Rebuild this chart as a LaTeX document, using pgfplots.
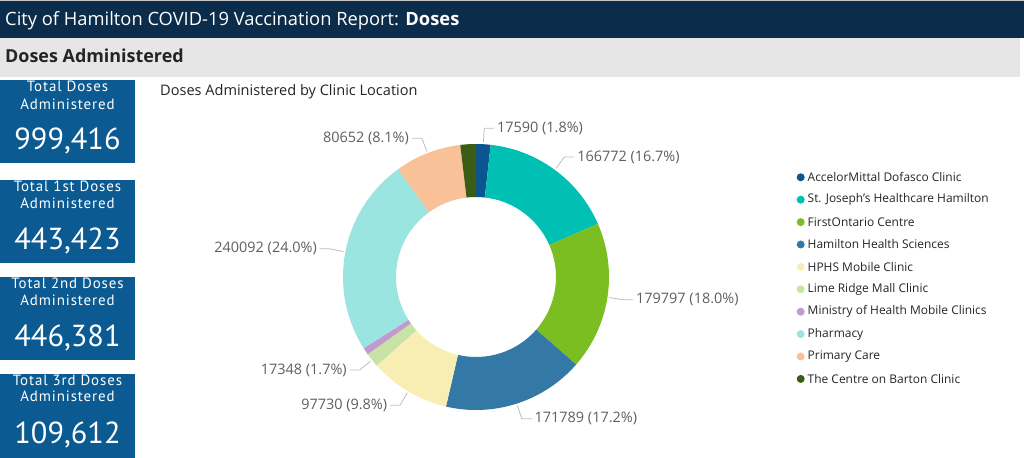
\documentclass[border=0pt]{standalone}
\usepackage{pgfplots}
\pgfplotsset{compat=1.18}
\usepackage{pgfplotstable}
\usetikzlibrary{calc}
\usepackage{fontspec}
\setmainfont{Open Sans}
\newfontfamily\kpifont{PT Sans}[LetterSpace=6]
\newfontfamily\kpinumfont{PT Sans}

\definecolor{headnavy}{HTML}{0B2C4A}
\definecolor{bandgrey}{HTML}{E6E6E6}
\definecolor{kpiblue}{HTML}{0B5A92}
\definecolor{txtdark}{HTML}{252423}
\definecolor{lblgrey}{HTML}{605E5C}
\definecolor{leader}{HTML}{BDBDBD}
% slice colours, in table order
\definecolor{slice0}{HTML}{0B5591}
\definecolor{slice1}{HTML}{00BFB3}
\definecolor{slice2}{HTML}{7BBE22}
\definecolor{slice3}{HTML}{3479A6}
\definecolor{slice4}{HTML}{F8EEB4}
\definecolor{slice5}{HTML}{C8E3A6}
\definecolor{slice6}{HTML}{C39AD0}
\definecolor{slice7}{HTML}{9BE5E0}
\definecolor{slice8}{HTML}{F9C198}
\definecolor{slice9}{HTML}{3A5C14}

% doses by clinic location (show = print a data label)
\pgfplotstableread{
val show
17590 1
166772 1
179797 1
171789 1
97730 1
17348 1
8746 0
240092 1
80652 1
18900 0
}\doses

\gdef\total{0}
\pgfplotstableforeachcolumnelement{val}\of\doses\as\v{\xdef\total{\fpeval{\total+\v}}}

\newcommand\pctfmt[1]{\pgfmathprintnumber[fixed,fixed zerofill,precision=1,assume math mode=true]{#1}}

\begin{document}
\begin{tikzpicture}[x=1bp,y=1bp]
\useasboundingbox (0,0) rectangle (1024,-458);

% report header
\fill[headnavy] (0,0) rectangle (1024,-38);
\fill[gray!45] (0,0) rectangle (1024,-1.2);
\node[anchor=base west,inner sep=0,text=white,font=\fontsize{18.4}{20}\selectfont]
  at (5,-26) {City of Hamilton COVID-19 Vaccination Report: \textbf{Doses}};
\fill[bandgrey] (0,-38) rectangle (1020,-77);
\node[anchor=base west,inner sep=0,text=txtdark,font=\fontsize{18}{20}\selectfont\bfseries]
  at (5,-63) {Doses Administered};

% KPI cards
\foreach \top/\bot/\la/\lb/\num/\ya/\yb/\yc in {
  80/163/Total Doses/Administered/{999,416}/92/110/150,
  180/263/Total 1st Doses/Administered/{443,423}/192/209/250,
  277/360/Total 2nd Doses/Administered/{446,381}/289/306/347,
  374/458/Total 3rd Doses/Administered/{109,612}/386/402/443}{
  \fill[kpiblue] (0,-\top) rectangle (135,-\bot);
  \node[anchor=base,inner sep=0,text=white,font=\kpifont\fontsize{15}{17}\selectfont] at (67.5,-\ya) {\la};
  \node[anchor=base,inner sep=0,text=white,font=\kpifont\fontsize{15}{17}\selectfont] at (67.5,-\yb) {\lb};
  \node[anchor=base,inner sep=0,text=white,font=\kpinumfont\fontsize{30.5}{32}\selectfont] at (67.5,-\yc) {\num};
}

% chart title
\node[anchor=base west,inner sep=0,text=txtdark,font=\fontsize{14.6}{16}\selectfont]
  at (160,-96) {Doses Administered by Clinic Location};

% donut chart
\begin{axis}[at={(476bp,-277bp)}, anchor=origin,
  width=266bp, height=266bp, scale only axis,
  xmin=-1, xmax=1, ymin=-1, ymax=1,
  hide axis, clip=false]
\pgfplotsextra{
  \coordinate (O) at (axis cs:0,0);
  \gdef\cum{0}
  \foreach \i in {0,...,9}{
    \pgfplotstablegetelem{\i}{val}\of\doses \let\v\pgfplotsretval
    \pgfplotstablegetelem{\i}{show}\of\doses \let\s\pgfplotsretval
    \edef\aone{\fpeval{90-360*\cum/\total}}
    \edef\atwo{\fpeval{90-360*(\cum+\v)/\total}}
    \edef\amid{\fpeval{(\aone+\atwo)/2}}
    \fill[slice\i] ($(O)+(\aone:133bp)$) arc[start angle=\aone, end angle=\atwo, radius=133bp]
       -- ($(O)+(\atwo:80bp)$) arc[start angle=\atwo, end angle=\aone, radius=80bp] -- cycle;
    \ifnum\s=1
      \edef\pct{\fpeval{100*\v/\total}}
      \edef\cs{\fpeval{cosd(\amid)}}
      \ifdim\cs pt<0pt
        \draw[leader,line width=0.8bp] ($(O)+(\amid:135bp)$) -- ($(O)+(\amid:149bp)$) -- ++(-10bp,0bp)
          node[anchor=east,inner sep=2.5bp,text=lblgrey,font=\fontsize{14.5}{16}\selectfont]
          {\v\ (\pctfmt{\pct}\%)};
      \else
        \draw[leader,line width=0.8bp] ($(O)+(\amid:135bp)$) -- ($(O)+(\amid:149bp)$) -- ++(10bp,0bp)
          node[anchor=west,inner sep=2.5bp,text=lblgrey,font=\fontsize{14.5}{16}\selectfont]
          {\v\ (\pctfmt{\pct}\%)};
      \fi
    \fi
    \xdef\cum{\fpeval{\cum+\v}}
  }
}
\end{axis}

% legend
\foreach \name [count=\k from 0] in {AccelorMittal Dofasco Clinic,
  St. Joseph's Healthcare Hamilton, FirstOntario Centre, Hamilton Health Sciences,
  HPHS Mobile Clinic, Lime Ridge Mall Clinic, Ministry of Health Mobile Clinics,
  Pharmacy, Primary Care, The Centre on Barton Clinic}{
  \fill[slice\k] (800.7,{-177.3-22.4*\k}) circle[radius=4];
  \node[anchor=west,inner sep=0,text=txtdark,font=\fontsize{12}{14}\selectfont]
    at (807.5,{-177.3-22.4*\k}) {\name};
}
\end{tikzpicture}
\end{document}
